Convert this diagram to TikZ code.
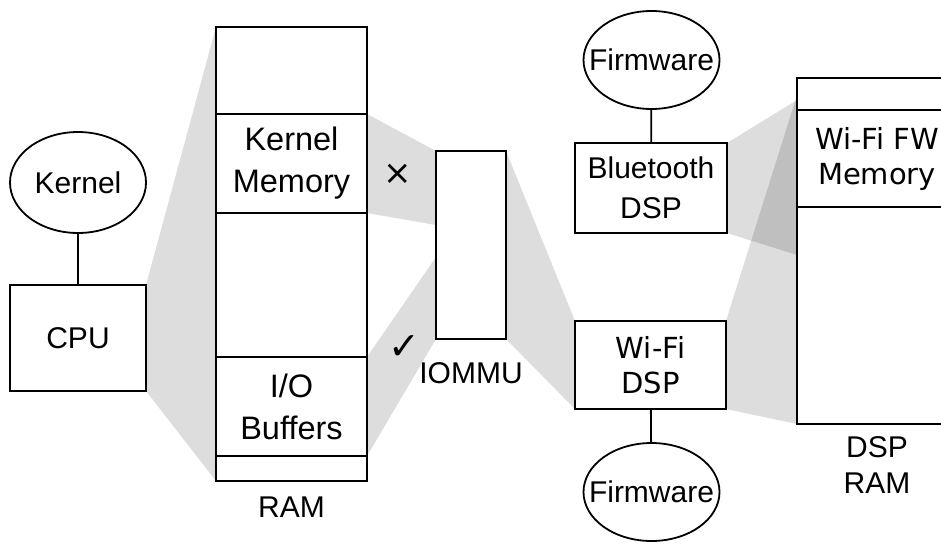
\documentclass[tikz,border=0pt]{standalone}
\usepackage{fontspec}
\setmainfont{Liberation Sans}
\newfontfamily\verdfam{DejaVu Sans}
\usetikzlibrary{shapes.geometric,calc,backgrounds}

\newcommand\lblfont{\fontsize{30}{40}\selectfont}
\newcommand\memfont{\fontsize{32.5}{42}\selectfont}
\newcommand\widefont{\verdfam\fontsize{29}{35}\selectfont}

\begin{document}
\begin{tikzpicture}[x=1pt,y=-1pt,
  cell/.style={draw, fill=white, line width=1.8pt, inner sep=0pt, outer sep=0pt,
               align=center, font=\lblfont},
  oval/.style={cell, ellipse, minimum width=136pt, minimum height=98pt},
  ramcell/.style={cell, minimum width=151pt, font=\memfont},
  dspcell/.style={cell, minimum width=160pt},
  tag/.style={inner sep=0pt, align=center, font=\lblfont},
  accessmark/.style={inner sep=0pt, font=\verdfam\fontsize{34}{34}\selectfont},
  funnel/.style={fill=black, fill opacity=0.135},
  link/.style={line width=1.8pt}]

\useasboundingbox (0,0) rectangle (941,543);

% host side: kernel, CPU and main memory
\node[oval, minimum height=101pt, label={[tag]center:Kernel}] (kernel) at (78,182.5) {};
\node[cell, minimum width=136pt, minimum height=106pt] (cpu) at (78,338) {CPU};

\node[ramcell, minimum height=87pt]  (ramtop) at (291.5,70.5) {};
\node[ramcell, minimum height=99pt]  (kmem)   at (291.5,163.5) {Kernel\\Memory};
\node[ramcell, minimum height=144pt] (ramgap) at (291.5,285) {};
\node[ramcell, minimum height=99pt]  (iobuf)  at (291.5,406.5) {I/O\\Buffers};
\node[ramcell, minimum height=25pt]  (rambot) at (291.5,468.5) {};
\node[tag] (ramlbl) at (291.5,507) {RAM};

% IOMMU and its access marks
\node[cell, minimum width=70pt, minimum height=188pt] (iommu) at (471,245) {};
\node[tag] (iommulbl) at (471,373) {IOMMU};
\node[accessmark] (deny) at (398,174) {×};
\node[accessmark, font=\verdfam\fontsize{38}{38}\selectfont] (allow) at (404,348) {✓};

% peripheral DSPs with their firmware
\node[oval, label={[tag]center:Firmware}] (fwbt) at (651.5,60) {};
\node[cell, minimum width=152pt, minimum height=90pt] (bt) at (651,188) {Bluetooth\\DSP};
\node[cell, minimum width=151pt, minimum height=88pt, font=\widefont] (wifi) at (650.5,365) {Wi-Fi\\DSP};
\node[oval, label={[tag]center:Firmware}] (fwwifi) at (651.5,492) {};

% DSP memory, running off the right edge
\begin{scope}
  \clip (0,0) rectangle (941,543);
  \node[dspcell, minimum height=32pt]  (dsptop)  at (877,94) {};
  \node[dspcell, minimum height=97pt, font=\widefont] (fwmem) at (877,158.5) {Wi-Fi FW\\Memory};
  \node[dspcell, minimum height=217pt] (dsprest) at (877,315.5) {};
\end{scope}
\node[tag, font=\fontsize{30}{36}\selectfont] (dsplbl) at (877,465) {DSP\\RAM};

% connectors
\draw[link] (kernel) -- (cpu);
\draw[link] (fwbt) -- (bt);
\draw[link] (wifi) -- (fwwifi);

% shaded address-space projections
\begin{scope}[on background layer]
  \fill[white] (0,0) rectangle (941,543);
  \fill[funnel] (cpu.north east) -- (ramtop.north west) -- (rambot.south west) -- (cpu.south east) -- cycle;
  \fill[funnel] (kmem.north east) -- (iommu.north west)
     -- ($(iommu.north west)!0.394!(iommu.south west)$) -- (kmem.south east) -- cycle;
  \fill[funnel] (iobuf.north east) -- ($(iommu.north west)!0.564!(iommu.south west)$)
     -- (iommu.south west) -- (iobuf.south east) -- cycle;
  \fill[funnel] (iommu.north east) -- (wifi.north west) -- (wifi.south west) -- (iommu.south east) -- cycle;
  \fill[funnel] (bt.north east) -- ($(dsptop.north west)+(0,22)$)
     -- ($(dsptop.north west)+(0,177)$) -- (bt.south east) -- cycle;
  \fill[funnel] (wifi.north east) -- ($(dsptop.north west)+(0,17)$)
     -- (dsprest.south west) -- (wifi.south east) -- cycle;
\end{scope}
\end{tikzpicture}
\end{document}
